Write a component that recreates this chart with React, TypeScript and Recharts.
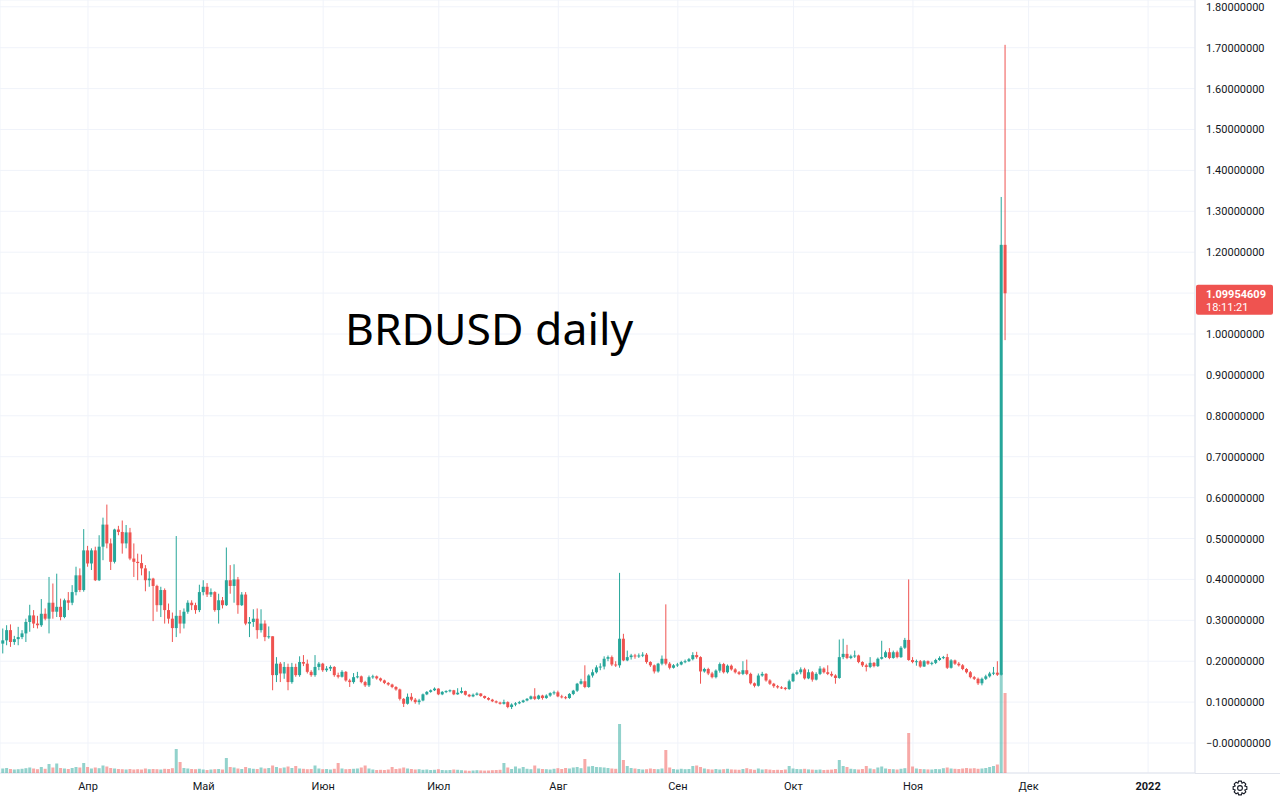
import React from 'react';
import { ComposedChart, Bar, XAxis, YAxis, CartesianGrid, ReferenceLine } from 'recharts';

// ---- data (BRDUSD daily, 10 Mar 2021 .. 25 Nov 2021) ----
const START_DAY = -22; // first candle: 10 Mar 2021, in days relative to 1 Apr 2021
const FIRST_OPEN = 0.243;

const closes = [
  0.251,0.276,0.247,0.254,0.259,0.268,0.296,0.312,0.292,0.288,
  0.316,0.304,0.343,0.321,0.333,0.308,0.349,0.343,0.369,0.410,
  0.374,0.471,0.439,0.471,0.398,0.480,0.534,0.488,0.443,0.522,
  0.516,0.488,0.515,0.451,0.443,0.440,0.427,0.398,0.402,0.384,
  0.337,0.374,0.325,0.304,0.281,0.311,0.292,0.321,0.343,0.337,
  0.325,0.369,0.382,0.363,0.369,0.325,0.349,0.337,0.398,0.384,
  0.400,0.337,0.363,0.292,0.296,0.304,0.276,0.292,0.259,0.261,
  0.166,0.194,0.170,0.186,0.149,0.186,0.166,0.198,0.194,0.174,
  0.166,0.186,0.194,0.178,0.182,0.186,0.166,0.162,0.174,0.153,
  0.149,0.161,0.163,0.149,0.141,0.161,0.163,0.158,0.153,0.147,
  0.143,0.137,0.131,0.108,0.096,0.113,0.106,0.100,0.104,0.119,
  0.125,0.129,0.133,0.119,0.125,0.127,0.129,0.119,0.123,0.127,
  0.118,0.114,0.118,0.121,0.115,0.110,0.106,0.102,0.099,0.096,
  0.100,0.088,0.094,0.097,0.100,0.104,0.108,0.114,0.108,0.116,
  0.110,0.116,0.122,0.124,0.114,0.112,0.110,0.120,0.128,0.145,
  0.151,0.137,0.165,0.173,0.185,0.187,0.206,0.210,0.192,0.190,
  0.255,0.202,0.210,0.214,0.212,0.214,0.216,0.198,0.190,0.175,
  0.194,0.206,0.194,0.184,0.190,0.192,0.198,0.200,0.205,0.215,
  0.210,0.175,0.181,0.170,0.161,0.177,0.193,0.173,0.189,0.180,
  0.173,0.169,0.178,0.169,0.146,0.140,0.165,0.169,0.153,0.145,
  0.139,0.136,0.135,0.132,0.151,0.169,0.173,0.180,0.158,0.173,
  0.155,0.169,0.182,0.173,0.169,0.165,0.159,0.210,0.218,0.208,
  0.212,0.214,0.198,0.190,0.186,0.196,0.188,0.206,0.210,0.222,
  0.208,0.222,0.210,0.233,0.252,0.203,0.198,0.200,0.187,0.200,
  0.194,0.196,0.203,0.208,0.210,0.184,0.202,0.194,0.190,0.181,
  0.173,0.161,0.157,0.146,0.157,0.163,0.170,0.172,0.167,1.218,
  1.09954609,
];

const highs = [
  0.280,0.288,0.290,0.262,0.284,0.276,0.304,0.338,0.325,0.311,
  0.352,0.329,0.406,0.390,0.414,0.353,0.353,0.369,0.386,0.431,
  0.427,0.523,0.482,0.476,0.480,0.508,0.551,0.583,0.500,0.524,
  0.531,0.544,0.533,0.526,0.488,0.463,0.461,0.435,0.420,0.404,
  0.387,0.382,0.378,0.341,0.319,0.506,0.325,0.329,0.349,0.349,
  0.343,0.387,0.398,0.391,0.378,0.371,0.365,0.357,0.478,0.435,
  0.437,0.406,0.369,0.369,0.308,0.327,0.329,0.327,0.300,0.285,
  0.261,0.210,0.198,0.198,0.194,0.196,0.194,0.212,0.215,0.204,
  0.178,0.215,0.198,0.196,0.188,0.190,0.188,0.172,0.178,0.176,
  0.157,0.171,0.174,0.165,0.152,0.165,0.167,0.165,0.160,0.155,
  0.149,0.145,0.139,0.133,0.110,0.121,0.122,0.110,0.108,0.121,
  0.127,0.131,0.136,0.134,0.127,0.129,0.131,0.130,0.134,0.136,
  0.128,0.120,0.121,0.124,0.122,0.116,0.112,0.108,0.104,0.101,
  0.106,0.102,0.097,0.100,0.103,0.106,0.110,0.116,0.134,0.118,
  0.118,0.119,0.124,0.128,0.128,0.118,0.115,0.122,0.130,0.147,
  0.157,0.190,0.168,0.180,0.190,0.195,0.212,0.214,0.214,0.200,
  0.416,0.267,0.226,0.218,0.218,0.219,0.222,0.220,0.200,0.192,
  0.196,0.214,0.339,0.198,0.193,0.196,0.201,0.204,0.208,0.222,
  0.223,0.212,0.184,0.184,0.174,0.180,0.197,0.196,0.192,0.192,
  0.183,0.176,0.200,0.204,0.172,0.148,0.170,0.174,0.171,0.156,
  0.147,0.142,0.139,0.137,0.155,0.172,0.178,0.185,0.184,0.180,
  0.176,0.173,0.188,0.185,0.190,0.175,0.168,0.253,0.255,0.240,
  0.216,0.226,0.216,0.200,0.194,0.210,0.198,0.209,0.250,0.226,
  0.232,0.226,0.226,0.237,0.257,0.400,0.210,0.204,0.203,0.203,
  0.202,0.199,0.206,0.212,0.213,0.218,0.205,0.204,0.198,0.193,
  0.183,0.176,0.164,0.160,0.160,0.167,0.174,0.186,0.200,1.335,
  1.707,
];

const lows = [
  0.219,0.239,0.235,0.240,0.239,0.254,0.247,0.272,0.281,0.280,
  0.284,0.300,0.268,0.304,0.308,0.300,0.305,0.325,0.337,0.361,
  0.369,0.370,0.431,0.423,0.396,0.396,0.447,0.476,0.423,0.439,
  0.508,0.463,0.476,0.447,0.406,0.398,0.410,0.371,0.382,0.298,
  0.321,0.308,0.292,0.292,0.247,0.259,0.268,0.280,0.316,0.325,
  0.316,0.320,0.361,0.357,0.357,0.321,0.292,0.329,0.335,0.365,
  0.343,0.316,0.335,0.288,0.259,0.284,0.255,0.270,0.249,0.255,
  0.129,0.149,0.149,0.157,0.129,0.145,0.162,0.162,0.188,0.170,
  0.162,0.162,0.178,0.174,0.174,0.176,0.162,0.158,0.160,0.150,
  0.137,0.145,0.158,0.146,0.137,0.137,0.157,0.155,0.150,0.144,
  0.140,0.134,0.128,0.104,0.088,0.094,0.102,0.096,0.094,0.102,
  0.117,0.123,0.127,0.117,0.117,0.122,0.124,0.117,0.118,0.121,
  0.116,0.112,0.112,0.116,0.113,0.108,0.104,0.100,0.097,0.094,
  0.094,0.085,0.083,0.090,0.095,0.098,0.102,0.106,0.105,0.106,
  0.106,0.108,0.113,0.118,0.112,0.109,0.107,0.108,0.117,0.125,
  0.143,0.134,0.135,0.160,0.170,0.178,0.180,0.200,0.188,0.186,
  0.184,0.200,0.200,0.204,0.206,0.208,0.210,0.194,0.186,0.170,
  0.172,0.190,0.190,0.180,0.182,0.186,0.190,0.195,0.198,0.202,
  0.206,0.145,0.172,0.166,0.158,0.158,0.172,0.170,0.170,0.177,
  0.170,0.166,0.166,0.166,0.143,0.136,0.138,0.162,0.150,0.142,
  0.135,0.133,0.132,0.129,0.130,0.149,0.166,0.168,0.155,0.156,
  0.150,0.153,0.166,0.170,0.166,0.162,0.145,0.157,0.205,0.205,
  0.205,0.208,0.195,0.186,0.175,0.183,0.185,0.186,0.204,0.208,
  0.205,0.206,0.207,0.208,0.230,0.201,0.195,0.189,0.184,0.186,
  0.191,0.190,0.193,0.201,0.205,0.181,0.182,0.191,0.187,0.178,
  0.170,0.158,0.154,0.142,0.141,0.154,0.160,0.166,0.164,0.165,
  0.985,
];

// volume, thousands
const volumes = [
  45,50,40,35,38,42,48,55,45,38,
  60,42,90,55,95,50,45,40,50,60,
  55,100,60,45,55,48,75,65,50,45,
  40,38,35,40,35,38,35,45,38,40,
  38,35,42,40,48,240,110,50,45,40,
  38,42,35,30,35,38,40,35,150,60,
  55,45,40,60,48,42,40,55,45,50,
  75,60,48,55,65,50,70,45,42,38,
  40,75,45,38,40,35,42,100,45,38,
  40,42,45,55,75,45,35,30,32,30,
  35,60,40,45,55,45,40,35,38,32,
  35,30,32,38,30,28,30,35,32,28,
  25,22,25,28,26,24,25,28,30,32,
  100,55,40,65,45,60,42,38,75,45,
  40,38,35,42,48,40,50,45,55,60,
  48,140,65,70,60,58,55,50,45,42,
  490,130,70,50,45,40,35,38,45,40,
  38,45,230,55,40,35,42,38,40,70,
  75,60,45,38,35,40,35,38,42,36,
  34,32,40,48,38,32,45,35,38,34,
  30,32,30,35,70,45,40,38,42,36,
  34,32,35,30,32,34,40,130,70,60,
  42,38,35,40,70,45,38,55,65,45,
  40,38,35,42,48,400,65,45,40,38,
  36,35,40,38,48,55,45,42,40,45,
  50,45,48,42,45,50,60,70,85,1000,
  800,
];

const monthTicks = [0, 30, 61, 91, 122, 153, 183, 214, 244, 275];
const monthLabels = ['Апр', 'Май', 'Июн', 'Июл', 'Авг', 'Сен', 'Окт', 'Ноя', 'Дек', '2022'];
const priceTicks = [0, 0.1, 0.2, 0.3, 0.4, 0.5, 0.6, 0.7, 0.8, 0.9, 1.0, 1.1, 1.2, 1.3, 1.4, 1.5, 1.6, 1.7, 1.8];
const lastPrice = 1.09954609;
const countdown = '18:11:21';
const title = 'BRDUSD daily';

// ---- layout / style ----
const W = 1280;
const H = 803;
const AXIS_W = 85;
const XAXIS_H = 30;
const X_DOMAIN: [number, number] = [-22.827, 287.16];
const PRICE_DOMAIN: [number, number] = [-0.0733, 1.8166];
const VOL_DOMAIN: [number, number] = [0, 7730];
const UP = '#26a69a';
const DOWN = '#ef5350';
const UP_VOL = 'rgba(38,166,154,0.5)';
const DOWN_VOL = 'rgba(239,83,80,0.5)';
const GRID = '#f0f3fa';
const BORDER = '#e0e3eb';
const TEXT = '#131722';
const FONT = 'Roboto, "Noto Sans", sans-serif';
// price span covered by the last-price badge (ticks under it are hidden, as in TradingView)
const BADGE_ABOVE = 0.021;
const BADGE_BELOW = 0.053;

const data = closes.map((c, i) => {
  const open = i === 0 ? FIRST_OPEN : closes[i - 1];
  return {
    t: START_DAY + i,
    open,
    close: c,
    high: highs[i],
    low: lows[i],
    range: [lows[i], highs[i]],
    vol: volumes[i],
    up: c >= open,
  };
});

const Candle = (props: any) => {
  const { x, y, width, height, payload } = props;
  if (x == null || y == null || !payload) return null;
  const top = Math.min(y, y + height);
  const bot = Math.max(y, y + height);
  const span = payload.high - payload.low;
  const toPx = (v: number) => (span === 0 ? top : top + ((payload.high - v) / span) * (bot - top));
  const color = payload.up ? UP : DOWN;
  const cx = x + width / 2;
  const bTop = toPx(Math.max(payload.open, payload.close));
  const bBot = toPx(Math.min(payload.open, payload.close));
  return (
    <g>
      <line x1={cx} x2={cx} y1={top} y2={bot} stroke={color} strokeWidth={1} />
      <rect x={x} y={bTop} width={width} height={Math.max(1, bBot - bTop)} fill={color} />
    </g>
  );
};

const VolBar = (props: any) => {
  const { x, y, width, height, payload } = props;
  if (x == null || !payload || !height) return null;
  const top = Math.min(y, y + height);
  return <rect x={x} y={top} width={width} height={Math.abs(height)} fill={payload.up ? UP_VOL : DOWN_VOL} />;
};

const XTick = (props: any) => {
  const { x, y, payload } = props;
  const i = monthTicks.indexOf(payload.value);
  const label = i >= 0 ? monthLabels[i] : '';
  return (
    <text x={x} y={y} dy={9} textAnchor="middle" fontFamily={FONT} fontSize={11}
      fill={TEXT} fontWeight={label === '2022' ? 700 : 400}>
      {label}
    </text>
  );
};

const fmtPrice = (v: number) => (Math.abs(v) < 1e-9 ? '\u22120.00000000' : v.toFixed(8));

const YTick = (props: any) => {
  const { x, y, payload } = props;
  const v = payload.value;
  if (v < lastPrice + BADGE_ABOVE && v > lastPrice - BADGE_BELOW) return <g />;
  return (
    <text x={x + 3} y={y} dy={4} textAnchor="start" fontFamily={FONT} fontSize={11} fill={TEXT}>
      {fmtPrice(v)}
    </text>
  );
};

const PriceLabel = (props: any) => {
  const vb = props.viewBox || {};
  const left = (vb.x || 0) + (vb.width || 0) + 1;
  const py = vb.y || 0;
  return (
    <g>
      <rect x={left} y={py - 8.5} width={77} height={30} rx={2} fill={DOWN} />
      <text x={left + 10} y={py + 4.5} fontFamily={FONT} fontSize={11} fontWeight={700} fill="#ffffff">
        {lastPrice.toFixed(8)}
      </text>
      <text x={left + 10} y={py + 18} fontFamily={FONT} fontSize={11} fill="#ffffff">
        {countdown}
      </text>
    </g>
  );
};

const gearPath = (() => {
  const cx = 1240, cy = 788, rO = 7, rI = 5.2, n = 8;
  const pts: string[] = [];
  for (let i = 0; i < n; i++) {
    const a = (i / n) * Math.PI * 2;
    const d = Math.PI / n / 2;
    pts.push(`${cx + rI * Math.cos(a - 2 * d)},${cy + rI * Math.sin(a - 2 * d)}`);
    pts.push(`${cx + rO * Math.cos(a - d)},${cy + rO * Math.sin(a - d)}`);
    pts.push(`${cx + rO * Math.cos(a + d)},${cy + rO * Math.sin(a + d)}`);
    pts.push(`${cx + rI * Math.cos(a + 2 * d)},${cy + rI * Math.sin(a + 2 * d)}`);
  }
  return 'M' + pts.join('L') + 'Z';
})();

export default function App() {
  const layer: React.CSSProperties = { position: 'absolute', left: 0, top: 0 };
  return (
    <div style={{ position: 'absolute', left: 0, top: 0, width: W, height: H, background: '#ffffff', overflow: 'hidden' }}>
      <div style={layer}>
        <ComposedChart width={W} height={H} data={data} margin={{ top: 0, right: 0, bottom: 0, left: 0 }}>
          <CartesianGrid yAxisId="price" stroke={GRID} strokeWidth={1} />
          <XAxis dataKey="t" type="number" domain={X_DOMAIN} allowDataOverflow ticks={monthTicks}
            tick={<XTick />} tickLine={false} axisLine={{ stroke: BORDER }} height={XAXIS_H} interval={0} />
          <YAxis yAxisId="price" orientation="right" width={AXIS_W} domain={PRICE_DOMAIN} allowDataOverflow
            ticks={priceTicks} tick={<YTick />} tickLine={false} axisLine={{ stroke: BORDER }} interval={0} />
          <Bar yAxisId="price" dataKey="range" barSize={3} shape={<Candle />} isAnimationActive={false} />
          <ReferenceLine yAxisId="price" y={lastPrice} stroke="none" strokeOpacity={0} ifOverflow="visible"
            label={<PriceLabel />} />
        </ComposedChart>
      </div>
      <div style={{ ...layer, pointerEvents: 'none' }}>
        <ComposedChart width={W} height={H} data={data} margin={{ top: 0, right: AXIS_W, bottom: XAXIS_H, left: 0 }}>
          <XAxis dataKey="t" type="number" domain={X_DOMAIN} allowDataOverflow hide />
          <YAxis yAxisId="vol" domain={VOL_DOMAIN} allowDataOverflow hide />
          <Bar yAxisId="vol" dataKey="vol" barSize={3} shape={<VolBar />} isAnimationActive={false} />
        </ComposedChart>
      </div>
      <svg width={W} height={H} style={{ ...layer, pointerEvents: 'none' }}>
        <line x1={W - AXIS_W} x2={W} y1={H - XAXIS_H + 0.5} y2={H - XAXIS_H + 0.5} stroke={BORDER} />
        <text x={345} y={345} fontFamily='"Noto Sans", "Open Sans", sans-serif' fontSize={44.5} fill="#000000">
          {title}
        </text>
        <path d={gearPath} fill="none" stroke={TEXT} strokeWidth={1.1} />
        <circle cx={1240} cy={788} r={2.4} fill="none" stroke={TEXT} strokeWidth={1.1} />
      </svg>
    </div>
  );
}
